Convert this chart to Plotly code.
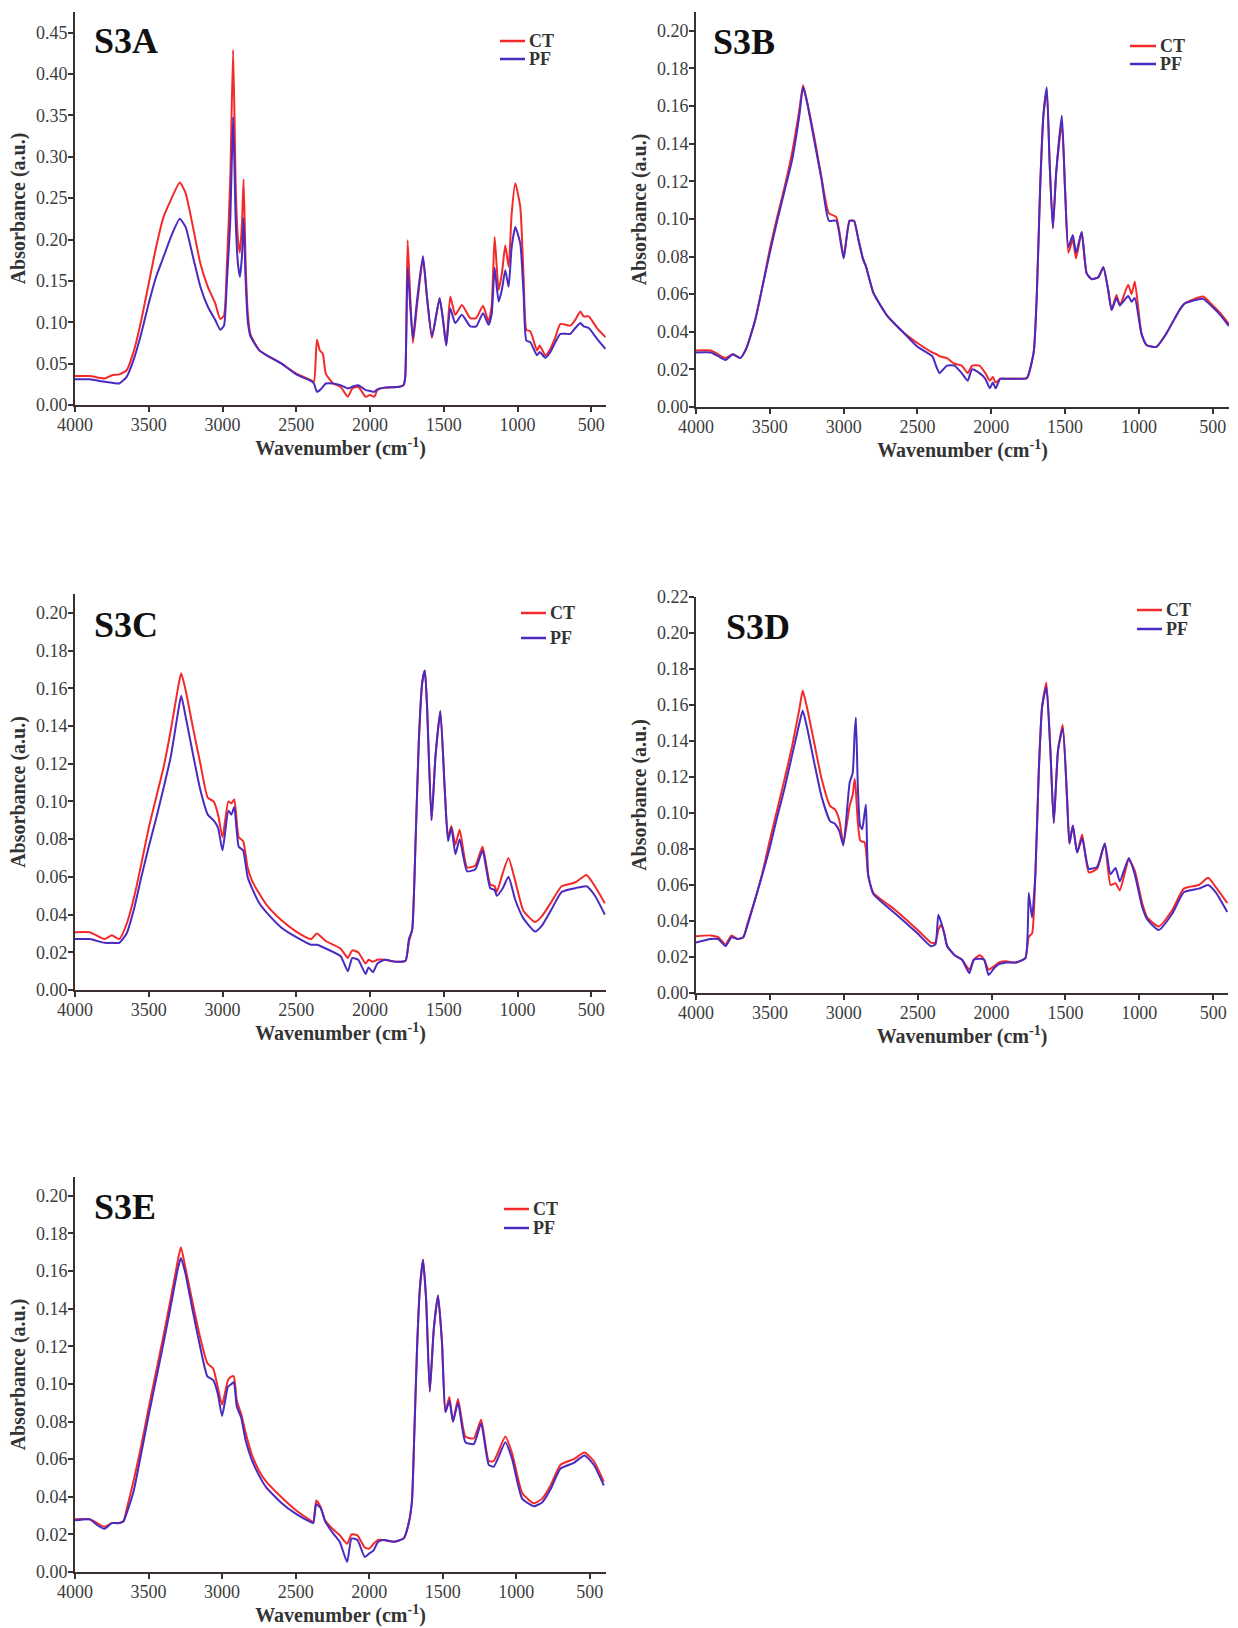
import plotly.graph_objects as go

# ---------------- data ----------------
wn_A = [4000, 3900, 3800, 3750, 3700, 3650, 3600, 3550, 3500, 3450,
        3400, 3350, 3290, 3250, 3200, 3150, 3100, 3050, 3015, 2990,
        2970, 2948, 2928, 2910, 2895, 2882, 2868, 2857, 2843, 2828,
        2810, 2750, 2700, 2600, 2500, 2400, 2380, 2360, 2340, 2320,
        2300, 2250, 2200, 2150, 2120, 2080, 2030, 2000, 1970, 1950,
        1900, 1800, 1773, 1761, 1745, 1727, 1709, 1682, 1641, 1614,
        1580, 1528, 1505, 1483, 1456, 1422, 1377, 1320, 1280, 1234,
        1196, 1175, 1155, 1128, 1105, 1083, 1060, 1040, 1015, 981,
        958, 940, 913, 868, 850, 811, 777, 743, 709, 642,
        608, 574, 551, 517, 461, 404]
ct_A = [0.035, 0.035, 0.032, 0.036, 0.037, 0.042, 0.066, 0.103, 0.147, 0.191,
        0.227, 0.248, 0.269, 0.256, 0.215, 0.171, 0.143, 0.123, 0.104, 0.108,
        0.17, 0.27, 0.429, 0.26, 0.20, 0.184, 0.22, 0.273, 0.17, 0.11,
        0.085, 0.066, 0.060, 0.050, 0.038, 0.030, 0.028, 0.079, 0.066, 0.062,
        0.038, 0.026, 0.022, 0.010, 0.020, 0.022, 0.010, 0.012, 0.010, 0.018,
        0.021, 0.022, 0.024, 0.034, 0.199, 0.131, 0.075, 0.119, 0.177, 0.131,
        0.081, 0.129, 0.103, 0.072, 0.131, 0.109, 0.121, 0.105, 0.105, 0.120,
        0.101, 0.12, 0.203, 0.139, 0.16, 0.193, 0.167, 0.23, 0.268, 0.239,
        0.151, 0.091, 0.089, 0.066, 0.072, 0.060, 0.068, 0.082, 0.098, 0.096,
        0.103, 0.113, 0.107, 0.107, 0.093, 0.082]
pf_A = [0.031, 0.031, 0.028, 0.027, 0.026, 0.034, 0.056, 0.087, 0.123, 0.155,
        0.179, 0.203, 0.225, 0.215, 0.179, 0.143, 0.119, 0.103, 0.091, 0.096,
        0.15, 0.22, 0.348, 0.22, 0.17, 0.155, 0.18, 0.226, 0.15, 0.10,
        0.083, 0.066, 0.060, 0.050, 0.037, 0.029, 0.026, 0.016, 0.018, 0.022,
        0.026, 0.026, 0.024, 0.020, 0.022, 0.024, 0.018, 0.017, 0.016, 0.019,
        0.021, 0.022, 0.024, 0.034, 0.166, 0.119, 0.080, 0.125, 0.180, 0.131,
        0.083, 0.129, 0.103, 0.072, 0.117, 0.099, 0.109, 0.095, 0.095, 0.111,
        0.097, 0.11, 0.166, 0.125, 0.14, 0.163, 0.143, 0.19, 0.215, 0.195,
        0.131, 0.078, 0.076, 0.060, 0.064, 0.057, 0.064, 0.076, 0.086, 0.086,
        0.093, 0.099, 0.095, 0.093, 0.080, 0.068]

wn_B = [4000, 3900, 3850, 3800, 3750, 3700, 3660, 3600, 3550, 3500,
        3450, 3400, 3350, 3300, 3275, 3250, 3200, 3150, 3100, 3050,
        3000, 2960, 2930, 2900, 2870, 2850, 2800, 2750, 2700, 2600,
        2500, 2400, 2370, 2350, 2300, 2250, 2200, 2160, 2130, 2080,
        2040, 2010, 1990, 1970, 1940, 1900, 1800, 1758, 1713, 1691,
        1669, 1646, 1624, 1605, 1583, 1560, 1522, 1500, 1478, 1448,
        1426, 1388, 1354, 1320, 1275, 1241, 1210, 1185, 1152, 1129,
        1073, 1050, 1028, 983, 949, 882, 815, 725, 691, 567,
        500, 450, 390]
ct_B = [0.030, 0.030, 0.028, 0.026, 0.028, 0.026, 0.031, 0.046, 0.064, 0.084,
        0.101, 0.117, 0.135, 0.158, 0.171, 0.163, 0.144, 0.122, 0.103, 0.101,
        0.080, 0.099, 0.099, 0.089, 0.079, 0.075, 0.061, 0.054, 0.048, 0.040,
        0.034, 0.029, 0.028, 0.027, 0.026, 0.023, 0.022, 0.018, 0.022, 0.022,
        0.018, 0.014, 0.016, 0.013, 0.015, 0.015, 0.015, 0.0154, 0.029, 0.061,
        0.117, 0.156, 0.168, 0.13, 0.095, 0.125, 0.151, 0.115, 0.082, 0.089,
        0.079, 0.093, 0.071, 0.068, 0.069, 0.0743, 0.063, 0.0516, 0.0596, 0.054,
        0.065, 0.060, 0.0667, 0.039, 0.033, 0.032, 0.039, 0.0516, 0.055, 0.0587,
        0.054, 0.050, 0.044]
pf_B = [0.029, 0.029, 0.027, 0.025, 0.028, 0.026, 0.031, 0.046, 0.064, 0.082,
        0.099, 0.115, 0.131, 0.155, 0.170, 0.163, 0.142, 0.121, 0.099, 0.099,
        0.079, 0.099, 0.099, 0.089, 0.079, 0.075, 0.061, 0.054, 0.048, 0.040,
        0.032, 0.027, 0.021, 0.018, 0.022, 0.022, 0.018, 0.014, 0.020, 0.018,
        0.015, 0.010, 0.013, 0.010, 0.015, 0.015, 0.015, 0.0154, 0.029, 0.061,
        0.117, 0.156, 0.170, 0.13, 0.095, 0.125, 0.155, 0.115, 0.085, 0.0915,
        0.082, 0.093, 0.071, 0.068, 0.069, 0.0743, 0.063, 0.0516, 0.058, 0.054,
        0.059, 0.056, 0.058, 0.039, 0.033, 0.032, 0.039, 0.0516, 0.055, 0.0575,
        0.053, 0.049, 0.043]

wn_C = [4000, 3900, 3800, 3750, 3700, 3650, 3600, 3550, 3500, 3450,
        3400, 3350, 3300, 3280, 3250, 3200, 3150, 3100, 3060, 3030,
        3000, 2960, 2940, 2920, 2890, 2860, 2830, 2800, 2750, 2700,
        2600, 2500, 2400, 2360, 2300, 2200, 2150, 2120, 2080, 2030,
        2010, 1980, 1950, 1900, 1827, 1759, 1736, 1714, 1691, 1669,
        1646, 1628, 1613, 1583, 1556, 1523, 1493, 1471, 1448, 1421,
        1392, 1342, 1286, 1237, 1185, 1155, 1140, 1100, 1061, 1016,
        960, 881, 836, 768, 701, 610, 532, 475, 408]
ct_C = [0.0306, 0.0306, 0.027, 0.029, 0.027, 0.035, 0.049, 0.067, 0.086, 0.102,
        0.118, 0.138, 0.161, 0.168, 0.159, 0.139, 0.120, 0.102, 0.100, 0.093,
        0.081, 0.100, 0.099, 0.101, 0.081, 0.079, 0.065, 0.058, 0.051, 0.045,
        0.037, 0.031, 0.027, 0.030, 0.026, 0.022, 0.017, 0.021, 0.020, 0.014,
        0.016, 0.015, 0.016, 0.016, 0.015, 0.0155, 0.0257, 0.032, 0.079, 0.132,
        0.163, 0.1694, 0.150, 0.090, 0.124, 0.148, 0.106, 0.081, 0.087, 0.077,
        0.085, 0.065, 0.066, 0.076, 0.056, 0.055, 0.052, 0.062, 0.070, 0.058,
        0.042, 0.036, 0.039, 0.047, 0.055, 0.057, 0.061, 0.055, 0.046]
pf_C = [0.027, 0.027, 0.025, 0.025, 0.025, 0.030, 0.043, 0.060, 0.076, 0.091,
        0.107, 0.124, 0.148, 0.156, 0.145, 0.125, 0.106, 0.093, 0.090, 0.086,
        0.074, 0.095, 0.093, 0.097, 0.076, 0.074, 0.060, 0.054, 0.046, 0.041,
        0.033, 0.028, 0.024, 0.024, 0.022, 0.018, 0.010, 0.017, 0.016, 0.0085,
        0.012, 0.0094, 0.014, 0.016, 0.015, 0.0155, 0.027, 0.032, 0.079, 0.132,
        0.163, 0.1694, 0.150, 0.090, 0.124, 0.148, 0.106, 0.079, 0.086, 0.072,
        0.080, 0.063, 0.064, 0.074, 0.054, 0.053, 0.050, 0.054, 0.060, 0.048,
        0.038, 0.031, 0.034, 0.043, 0.052, 0.054, 0.055, 0.050, 0.040]

wn_D = [4000, 3900, 3850, 3800, 3760, 3720, 3680, 3650, 3600, 3550,
        3500, 3450, 3400, 3350, 3300, 3278, 3250, 3200, 3150, 3093,
        3060, 3030, 3003, 2960, 2940, 2926, 2918, 2905, 2890, 2875,
        2862, 2850, 2835, 2800, 2650, 2500, 2410, 2380, 2360, 2340,
        2320, 2300, 2250, 2200, 2150, 2120, 2080, 2050, 2020, 1980,
        1950, 1900, 1839, 1771, 1748, 1726, 1703, 1681, 1658, 1629,
        1602, 1579, 1550, 1518, 1489, 1473, 1450, 1421, 1387, 1342,
        1286, 1234, 1195, 1161, 1132, 1071, 1031, 981, 947, 868,
        778, 699, 597, 534, 484, 405]
ct_D = [0.0315, 0.032, 0.031, 0.027, 0.032, 0.030, 0.031, 0.039, 0.052, 0.067,
        0.085, 0.102, 0.119, 0.137, 0.158, 0.168, 0.159, 0.139, 0.119, 0.104,
        0.102, 0.096, 0.083, 0.104, 0.110, 0.119, 0.112, 0.095, 0.085, 0.084,
        0.084, 0.080, 0.065, 0.0557, 0.046, 0.035, 0.028, 0.028, 0.035, 0.038,
        0.033, 0.026, 0.021, 0.0185, 0.013, 0.0185, 0.021, 0.0185, 0.013, 0.015,
        0.017, 0.0176, 0.0169, 0.0194, 0.0314, 0.033, 0.067, 0.122, 0.159, 0.1725,
        0.135, 0.0945, 0.135, 0.149, 0.108, 0.083, 0.093, 0.078, 0.088, 0.067,
        0.069, 0.083, 0.060, 0.061, 0.057, 0.074, 0.068, 0.050, 0.042, 0.037,
        0.046, 0.058, 0.060, 0.064, 0.059, 0.050]
pf_D = [0.028, 0.030, 0.030, 0.026, 0.031, 0.030, 0.031, 0.038, 0.052, 0.066,
        0.081, 0.098, 0.114, 0.132, 0.150, 0.157, 0.148, 0.128, 0.109, 0.0955,
        0.094, 0.090, 0.082, 0.117, 0.122, 0.145, 0.153, 0.115, 0.093, 0.091,
        0.098, 0.1047, 0.066, 0.055, 0.044, 0.033, 0.026, 0.027, 0.0435, 0.039,
        0.033, 0.026, 0.021, 0.0185, 0.011, 0.0185, 0.019, 0.0185, 0.010, 0.014,
        0.016, 0.017, 0.0169, 0.0194, 0.0555, 0.042, 0.067, 0.122, 0.159, 0.170,
        0.135, 0.0945, 0.135, 0.147, 0.108, 0.083, 0.093, 0.078, 0.086, 0.069,
        0.070, 0.083, 0.066, 0.0695, 0.062, 0.075, 0.066, 0.048, 0.041, 0.035,
        0.044, 0.056, 0.058, 0.060, 0.056, 0.045]

wn_E = [4000, 3900, 3850, 3800, 3750, 3700, 3670, 3650, 3600, 3550,
        3500, 3450, 3400, 3350, 3300, 3280, 3250, 3200, 3150, 3100,
        3060, 3030, 3000, 2960, 2935, 2920, 2900, 2870, 2840, 2800,
        2750, 2700, 2600, 2500, 2400, 2380, 2360, 2330, 2300, 2250,
        2200, 2150, 2120, 2080, 2030, 2000, 1970, 1940, 1900, 1833,
        1765, 1731, 1709, 1693, 1675, 1656, 1634, 1613, 1588, 1561,
        1532, 1505, 1482, 1455, 1430, 1396, 1346, 1289, 1239, 1187,
        1153, 1074, 1028, 960, 881, 824, 767, 699, 609, 536,
        473, 405]
ct_E = [0.028, 0.028, 0.026, 0.024, 0.026, 0.026, 0.027, 0.033, 0.049, 0.067,
        0.087, 0.106, 0.125, 0.145, 0.166, 0.1727, 0.162, 0.143, 0.125, 0.111,
        0.108, 0.0985, 0.089, 0.102, 0.104, 0.104, 0.091, 0.084, 0.074, 0.063,
        0.054, 0.048, 0.040, 0.033, 0.0275, 0.0266, 0.038, 0.0346, 0.0275, 0.023,
        0.0195, 0.015, 0.020, 0.0195, 0.013, 0.0124, 0.015, 0.017, 0.017, 0.0161,
        0.0179, 0.026, 0.038, 0.074, 0.118, 0.150, 0.166, 0.145, 0.096, 0.129,
        0.147, 0.122, 0.085, 0.093, 0.080, 0.092, 0.072, 0.071, 0.081, 0.059,
        0.059, 0.072, 0.063, 0.042, 0.0365, 0.039, 0.046, 0.057, 0.060, 0.0635,
        0.059, 0.048]
pf_E = [0.0275, 0.028, 0.025, 0.023, 0.026, 0.026, 0.027, 0.031, 0.0435, 0.063,
        0.083, 0.102, 0.121, 0.141, 0.1615, 0.167, 0.159, 0.139, 0.120, 0.104,
        0.102, 0.095, 0.083, 0.0985, 0.100, 0.101, 0.088, 0.082, 0.070, 0.060,
        0.0515, 0.045, 0.037, 0.031, 0.0266, 0.026, 0.036, 0.034, 0.027, 0.021,
        0.016, 0.0053, 0.0178, 0.017, 0.008, 0.0098, 0.0115, 0.016, 0.017, 0.0161,
        0.0179, 0.026, 0.038, 0.074, 0.118, 0.150, 0.166, 0.145, 0.096, 0.129,
        0.147, 0.122, 0.085, 0.091, 0.080, 0.090, 0.069, 0.068, 0.079, 0.057,
        0.056, 0.069, 0.060, 0.039, 0.035, 0.037, 0.044, 0.055, 0.058, 0.062,
        0.057, 0.046]

panel_labels = ["S3A", "S3B", "S3C", "S3D", "S3E"]
series_names = ["CT", "PF"]
y_tops = [0.475, 0.21, 0.21, 0.22, 0.21]
y_dticks = [0.05, 0.02, 0.02, 0.02, 0.02]
x_ends = [400, 390, 400, 400, 390]
x_ticks = [4000, 3500, 3000, 2500, 2000, 1500, 1000, 500]

# ---------------- layout ----------------
W, H = 1238, 1628
SERIF = "Liberation Serif, Times New Roman, serif"
RED = "#f42a2a"
BLUE = "#4a2ac0"
AXC = "#3a3030"
TXT = "#3c3c3c"

# pixel boxes (left, right, bottom(0.00), top)
boxes = [(75, 606, 405, 12), (696, 1229, 407, 12),
         (75, 606, 990, 594), (696, 1228, 993, 597),
         (75, 606, 1572, 1177)]
label_pos = [(92, 41), (711, 42), (92, 625), (724, 627), (92, 1207)]
# legend: line x0, line x1, CT y, PF y (pixels)
legend_px = [(500, 525, 41, 59), (1130, 1156, 46, 64), (521, 546, 613, 638),
             (1137, 1162, 610, 629), (504, 529, 1209, 1228)]

data = [(wn_A, ct_A, pf_A), (wn_B, ct_B, pf_B), (wn_C, ct_C, pf_C),
        (wn_D, ct_D, pf_D), (wn_E, ct_E, pf_E)]

fig = go.Figure()
layout = dict(width=W, height=H, autosize=False,
              margin=dict(l=0, r=0, t=0, b=0, autoexpand=False),
              paper_bgcolor="white", plot_bgcolor="white",
              showlegend=False, annotations=[], shapes=[])

for i, (wn, ct, pf) in enumerate(data):
    assert len(wn) == len(ct) == len(pf), (i, len(wn), len(ct), len(pf))
    n = "" if i == 0 else str(i + 1)
    for name, ys, col in ((series_names[0], ct, RED), (series_names[1], pf, BLUE)):
        fig.add_trace(go.Scatter(x=wn, y=ys, mode="lines", name=name,
                                 line=dict(color=col, width=2, shape="spline", smoothing=0.5),
                                 xaxis="x" + n, yaxis="y" + n))
    l, r, b, t = boxes[i]
    layout["xaxis" + n] = dict(
        domain=[l / W, r / W], anchor="y" + n, automargin=False,
        range=[4000, x_ends[i]], tickvals=x_ticks,
        ticks="outside", ticklen=5, tickwidth=1.5, tickcolor=AXC,
        ticklabelstandoff=-3,
        showline=True, linecolor=AXC, linewidth=2,
        showgrid=False, zeroline=False,
        tickfont=dict(family=SERIF, size=18, color=TXT),
        title=dict(text="Wavenumber (cm<sup>-1</sup>)", standoff=7,
                   font=dict(family=SERIF, size=20, color="#333", weight="bold")))
    layout["yaxis" + n] = dict(
        domain=[1 - b / H, 1 - t / H], anchor="x" + n, automargin=False,
        range=[0, y_tops[i]], dtick=y_dticks[i], tick0=0, tickformat=".2f",
        ticks="outside", ticklen=5, tickwidth=1.5, tickcolor=AXC,
        ticklabelstandoff=-3,
        showline=True, linecolor=AXC, linewidth=2,
        showgrid=False, zeroline=False,
        tickfont=dict(family=SERIF, size=18, color=TXT),
        title=dict(text="Absorbance (a.u.)", standoff=5,
                   font=dict(family=SERIF, size=20, color="#333", weight="bold")))
    # panel label
    px, py = label_pos[i]
    layout["annotations"].append(dict(
        text=panel_labels[i], xref="paper", yref="paper",
        x=px / W, y=1 - py / H, xanchor="left", yanchor="middle",
        showarrow=False, font=dict(family=SERIF, size=36, color="#111", weight="bold")))
    # legend (line sample + bold label)
    x0, x1, yct, ypf = legend_px[i]
    for name, col, yy in ((series_names[0], RED, yct), (series_names[1], BLUE, ypf)):
        layout["shapes"].append(dict(type="line", xref="paper", yref="paper",
                                     x0=x0 / W, x1=x1 / W, y0=1 - yy / H, y1=1 - yy / H,
                                     line=dict(color=col, width=2.5)))
        layout["annotations"].append(dict(
            text=name, xref="paper", yref="paper",
            x=(x1 + 2) / W, y=1 - yy / H, xanchor="left", yanchor="middle",
            showarrow=False, font=dict(family=SERIF, size=18, color="#333", weight="bold")))

fig.update_layout(**layout)
fig.write_html("out.html")
